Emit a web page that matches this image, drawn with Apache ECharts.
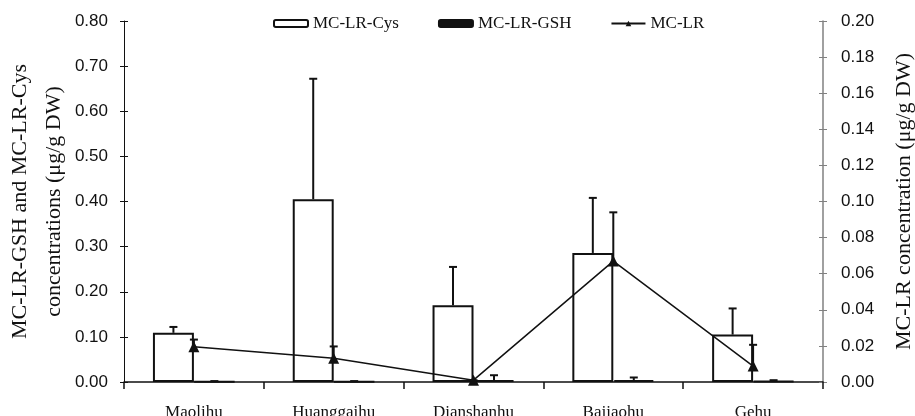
<!DOCTYPE html>
<html>
<head>
<meta charset="utf-8">
<script src="https://cdn.jsdelivr.net/npm/echarts@6/dist/echarts.min.js"></script>
<style>
html,body{margin:0;padding:0;background:#fff;}
#chart{width:915px;height:416px;}
</style>
</head>
<body>
<div id="chart"></div>
<script>
const categories = ['Maolihu', 'Huanggaihu', 'Dianshanhu', 'Bajiaohu', 'Gehu'];
const cysValues = [0.109, 0.405, 0.170, 0.286, 0.105];
const cysErrors = [0.013, 0.267, 0.085, 0.122, 0.058];
const gshValues = [0.001, 0.001, 0.004, 0.004, 0.002];
const gshErrors = [0.001, 0.001, 0.011, 0.006, 0.002];
const mclrValues = [0.0195, 0.0132, 0.0010, 0.0670, 0.0088];
const mclrErrors = [0.0040, 0.0065, 0.0000, 0.0270, 0.0118];
const leftTicks = { min: 0, max: 0.8, interval: 0.1 };
const rightTicks = { min: 0, max: 0.2, interval: 0.02 };

const BAR_FRAC = 0.293;
const SANS = "'Liberation Sans', Arial, sans-serif";
const SERIF = "'Liberation Serif', 'Times New Roman', serif";

function errData(vals, errs) {
  return vals.map((v, i) => [i, v, errs[i]]);
}
function errRender(shiftSign) {
  return function (params, api) {
    const idx = api.value(0), v = api.value(1), e = api.value(2);
    const band = api.size([1, 0])[0];
    const w = band * BAR_FRAC;
    const base = api.coord([idx, v]);
    const top = api.coord([idx, v + e]);
    const x = base[0] + shiftSign * w / 2;
    const cap = 4;
    const style = { stroke: '#111', lineWidth: 2, fill: null };
    return {
      type: 'group',
      children: [
        { type: 'line', shape: { x1: x, y1: base[1], x2: x, y2: top[1] }, style: style },
        { type: 'line', shape: { x1: x - cap, y1: top[1], x2: x + cap, y2: top[1] }, style: style }
      ]
    };
  };
}

const chart = echarts.init(document.getElementById('chart'), null, { renderer: 'canvas' });
chart.setOption({
  animation: false,
  backgroundColor: '#fff',
  grid: { left: 124, right: 92, top: 21, bottom: 34, containLabel: false, outerBoundsMode: 'none' },
  legend: {
    left: 268, top: 10,
    itemWidth: 34, itemHeight: 7, itemGap: 39,
    textStyle: { fontFamily: SERIF, fontSize: 17, color: '#111' },
    data: ['MC-LR-Cys', 'MC-LR-GSH', 'MC-LR']
  },
  xAxis: {
    type: 'category',
    data: categories,
    boundaryGap: true,
    axisLine: { lineStyle: { color: '#111', width: 1.5 } },
    axisTick: { show: true, length: 7, lineStyle: { color: '#111', width: 1.5 } },
    axisLabel: { fontFamily: SERIF, fontSize: 17, color: '#111', margin: 22 },
    splitLine: { show: false }
  },
  yAxis: [
    {
      type: 'value', position: 'left',
      min: leftTicks.min, max: leftTicks.max, interval: leftTicks.interval,
      name: 'MC-LR-GSH and MC-LR-Cys\nconcentrations (μg/g DW)',
      nameLocation: 'middle', nameRotate: 90, nameGap: 53, nameMoveOverlap: false,
      nameTextStyle: { fontFamily: SERIF, fontSize: 22, color: '#111', lineHeight: 34 },
      axisLine: { show: true, lineStyle: { color: '#111', width: 1 } },
      axisTick: { show: true, length: 4, lineStyle: { color: '#111' } },
      axisLabel: { fontFamily: SANS, fontSize: 17, color: '#111', margin: 16,
        formatter: v => v.toFixed(2) },
      splitLine: { show: false }
    },
    {
      type: 'value', position: 'right',
      min: rightTicks.min, max: rightTicks.max, interval: rightTicks.interval,
      name: 'MC-LR concentration (μg/g DW)',
      nameLocation: 'middle', nameRotate: 90, nameGap: 70, nameMoveOverlap: false,
      nameTextStyle: { fontFamily: SERIF, fontSize: 22, color: '#111' },
      axisLine: { show: true, lineStyle: { color: '#808080', width: 1.5 } },
      axisTick: { show: true, length: 4, lineStyle: { color: '#808080' } },
      axisLabel: { fontFamily: SANS, fontSize: 17, color: '#111', margin: 18,
        formatter: v => v.toFixed(2) },
      splitLine: { show: false }
    },
    {
      type: 'value', position: 'left', offset: 0,
      min: leftTicks.min, max: leftTicks.max, interval: leftTicks.interval,
      axisLine: { show: false },
      axisTick: { show: true, inside: true, length: 4, lineStyle: { color: '#111' } },
      axisLabel: { show: false }, splitLine: { show: false }
    },
    {
      type: 'value', position: 'right', offset: 0,
      min: rightTicks.min, max: rightTicks.max, interval: rightTicks.interval,
      axisLine: { show: false },
      axisTick: { show: true, inside: true, length: 4, lineStyle: { color: '#808080' } },
      axisLabel: { show: false }, splitLine: { show: false }
    }
  ],
  series: [
    {
      name: 'MC-LR-Cys', type: 'bar', yAxisIndex: 0,
      data: cysValues, barWidth: (BAR_FRAC * 100) + '%', barGap: '0%',
      itemStyle: { color: '#fff', borderColor: '#111', borderWidth: 2 }
    },
    {
      name: 'MC-LR-GSH', type: 'bar', yAxisIndex: 0,
      data: gshValues, barWidth: (BAR_FRAC * 100) + '%', barGap: '0%',
      itemStyle: { color: '#111', borderColor: '#111', borderWidth: 2 }
    },
    {
      name: 'MC-LR', type: 'line', yAxisIndex: 1, z: 5,
      data: mclrValues,
      symbol: 'triangle', symbolSize: 11, showSymbol: true,
      lineStyle: { color: '#111', width: 1.5 },
      itemStyle: { color: '#111' }
    },
    {
      type: 'custom', yAxisIndex: 0, z: 4, silent: true,
      renderItem: errRender(-1), data: errData(cysValues, cysErrors)
    },
    {
      type: 'custom', yAxisIndex: 0, z: 4, silent: true,
      renderItem: errRender(1), data: errData(gshValues, gshErrors)
    },
    {
      type: 'custom', yAxisIndex: 1, z: 4, silent: true,
      renderItem: errRender(0), data: errData(mclrValues, mclrErrors)
    }
  ]
});
</script>
</body>
</html>
